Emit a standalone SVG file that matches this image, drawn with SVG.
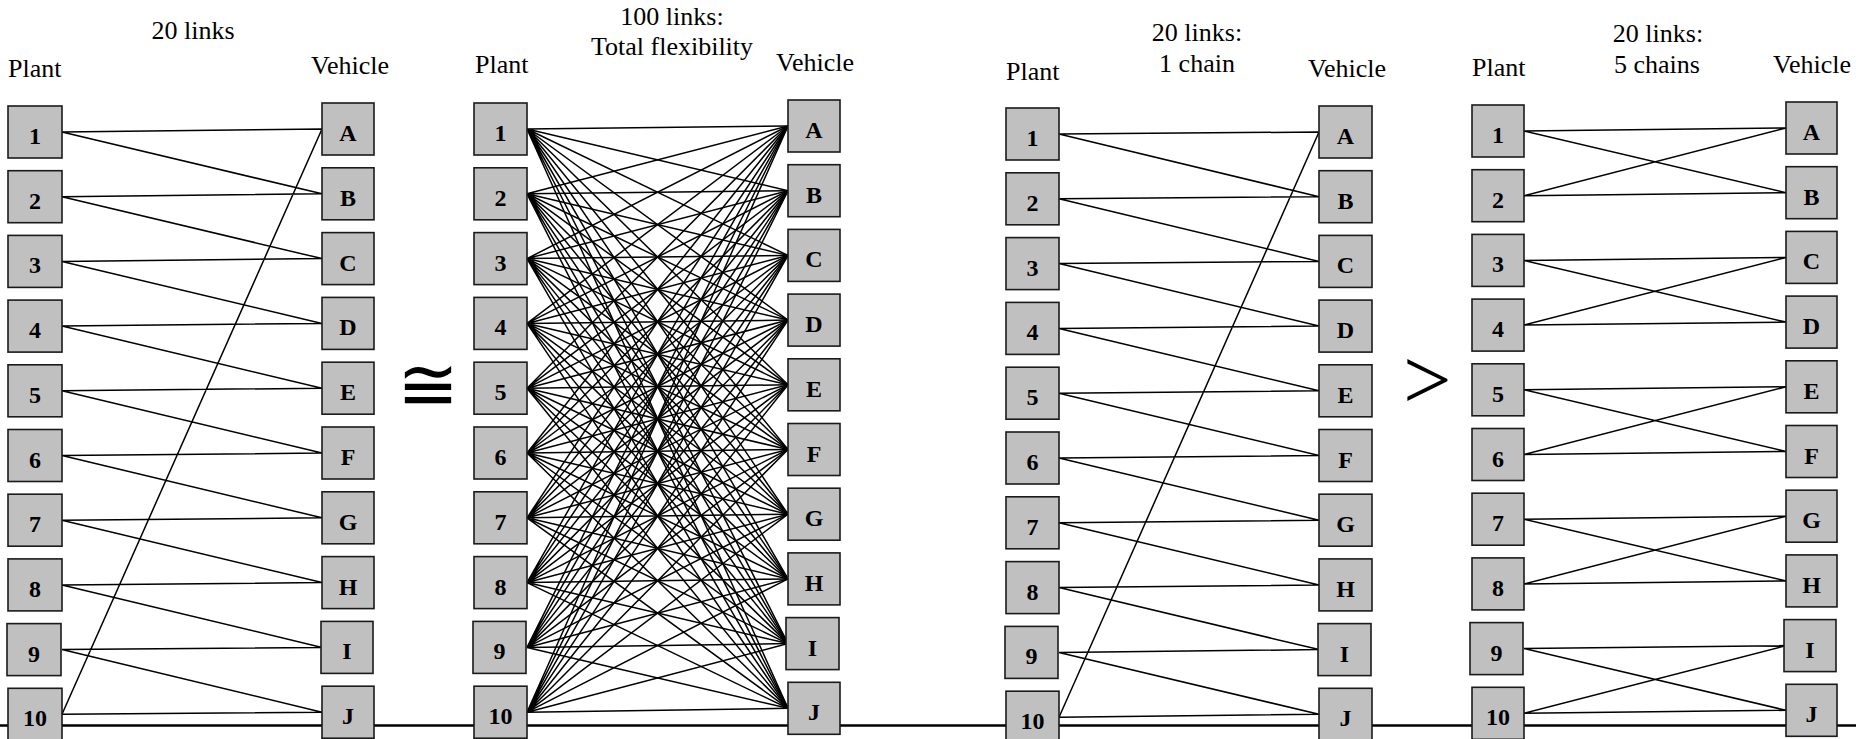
<svg xmlns="http://www.w3.org/2000/svg" width="1856" height="739" viewBox="0 0 1856 739">
  <style>
    .box { fill: #c0c0c0; stroke: #1a1a1a; stroke-width: 1.6; }
    .lbl { font-family: "Liberation Serif", "Times New Roman", serif; font-weight: bold; font-size: 24px; text-anchor: middle; fill: #000; }
    .cap { font-family: "Liberation Serif", "Times New Roman", serif; font-size: 26px; fill: #000; }
    .mid { text-anchor: middle; }
    .link { stroke: #000; stroke-width: 1.5; fill: none; }
    .rule { stroke: #000; stroke-width: 2.5; }
  </style>

  <!-- baseline rule running under all four networks -->
  <line class="rule" x1="0" y1="725.5" x2="1856" y2="725.5"/>

  <!-- captions -->
  <g id="captions">
    <text class="cap mid" x="193" y="39">20 links</text>
    <text class="cap" x="8" y="77">Plant</text>
    <text class="cap" x="311" y="74">Vehicle</text>

    <text class="cap mid" x="672" y="25">100 links:</text>
    <text class="cap mid" x="672" y="55">Total flexibility</text>
    <text class="cap" x="475" y="73">Plant</text>
    <text class="cap" x="776" y="71">Vehicle</text>

    <text class="cap mid" x="1197" y="41">20 links:</text>
    <text class="cap mid" x="1197" y="72">1 chain</text>
    <text class="cap" x="1006" y="80">Plant</text>
    <text class="cap" x="1308" y="77">Vehicle</text>

    <text class="cap mid" x="1658" y="42">20 links:</text>
    <text class="cap mid" x="1657" y="73">5 chains</text>
    <text class="cap" x="1472" y="76">Plant</text>
    <text class="cap" x="1773" y="73">Vehicle</text>

    <text x="428" y="410" font-family="DejaVu Sans, sans-serif" font-size="74" text-anchor="middle">≅</text>
    <text x="1403" y="409" font-family="Liberation Serif, serif" font-size="86">&gt;</text>
  </g>

  <!-- connectors -->
  <g id="connectors">
    <!-- network 1: 20 links -->
    <g id="links-n1" class="link">
      <path d="M62 132 L322 129 M62 132 L322 193.8
               M62 196.7 L322 193.8 M62 196.7 L322 258.6
               M62 261.4 L322 258.6 M62 261.4 L322 323.4
               M62 326.1 L322 323.4 M62 326.1 L322 388.2
               M62 390.8 L322 388.2 M62 390.8 L322 453
               M62 455.5 L322 453 M62 455.5 L322 517.8
               M62 520.2 L322 517.8 M62 520.2 L322 582.6
               M62 584.9 L322 582.6 M62 584.9 L322 647.4
               M62 649.6 L322 647.4 M62 649.6 L322 712.2
               M62 714.3 L322 712.2 M62 714.3 L322 129"/>
    </g>
    <!-- network 2: 100 links, every plant to every vehicle -->
    <g id="links-n2" class="link">
      <path d="M527 129 L788 126 M527 129 L788 190.7 M527 129 L788 255.4 M527 129 L788 320.1 M527 129 L788 384.8 M527 129 L788 449.5 M527 129 L788 514.2 M527 129 L788 578.9 M527 129 L788 643.6 M527 129 L788 708.3"/>
      <path d="M527 193.8 L788 126 M527 193.8 L788 190.7 M527 193.8 L788 255.4 M527 193.8 L788 320.1 M527 193.8 L788 384.8 M527 193.8 L788 449.5 M527 193.8 L788 514.2 M527 193.8 L788 578.9 M527 193.8 L788 643.6 M527 193.8 L788 708.3"/>
      <path d="M527 258.6 L788 126 M527 258.6 L788 190.7 M527 258.6 L788 255.4 M527 258.6 L788 320.1 M527 258.6 L788 384.8 M527 258.6 L788 449.5 M527 258.6 L788 514.2 M527 258.6 L788 578.9 M527 258.6 L788 643.6 M527 258.6 L788 708.3"/>
      <path d="M527 323.4 L788 126 M527 323.4 L788 190.7 M527 323.4 L788 255.4 M527 323.4 L788 320.1 M527 323.4 L788 384.8 M527 323.4 L788 449.5 M527 323.4 L788 514.2 M527 323.4 L788 578.9 M527 323.4 L788 643.6 M527 323.4 L788 708.3"/>
      <path d="M527 388.2 L788 126 M527 388.2 L788 190.7 M527 388.2 L788 255.4 M527 388.2 L788 320.1 M527 388.2 L788 384.8 M527 388.2 L788 449.5 M527 388.2 L788 514.2 M527 388.2 L788 578.9 M527 388.2 L788 643.6 M527 388.2 L788 708.3"/>
      <path d="M527 453 L788 126 M527 453 L788 190.7 M527 453 L788 255.4 M527 453 L788 320.1 M527 453 L788 384.8 M527 453 L788 449.5 M527 453 L788 514.2 M527 453 L788 578.9 M527 453 L788 643.6 M527 453 L788 708.3"/>
      <path d="M527 517.8 L788 126 M527 517.8 L788 190.7 M527 517.8 L788 255.4 M527 517.8 L788 320.1 M527 517.8 L788 384.8 M527 517.8 L788 449.5 M527 517.8 L788 514.2 M527 517.8 L788 578.9 M527 517.8 L788 643.6 M527 517.8 L788 708.3"/>
      <path d="M527 582.6 L788 126 M527 582.6 L788 190.7 M527 582.6 L788 255.4 M527 582.6 L788 320.1 M527 582.6 L788 384.8 M527 582.6 L788 449.5 M527 582.6 L788 514.2 M527 582.6 L788 578.9 M527 582.6 L788 643.6 M527 582.6 L788 708.3"/>
      <path d="M527 647.4 L788 126 M527 647.4 L788 190.7 M527 647.4 L788 255.4 M527 647.4 L788 320.1 M527 647.4 L788 384.8 M527 647.4 L788 449.5 M527 647.4 L788 514.2 M527 647.4 L788 578.9 M527 647.4 L788 643.6 M527 647.4 L788 708.3"/>
      <path d="M527 712.2 L788 126 M527 712.2 L788 190.7 M527 712.2 L788 255.4 M527 712.2 L788 320.1 M527 712.2 L788 384.8 M527 712.2 L788 449.5 M527 712.2 L788 514.2 M527 712.2 L788 578.9 M527 712.2 L788 643.6 M527 712.2 L788 708.3"/>
    </g>
    <!-- network 3: 20 links, one long chain -->
    <g id="links-n3" class="link">
      <path d="M1059 134 L1319 132 M1059 134 L1319 196.7
               M1059 198.8 L1319 196.7 M1059 198.8 L1319 261.4
               M1059 263.6 L1319 261.4 M1059 263.6 L1319 326.1
               M1059 328.4 L1319 326.1 M1059 328.4 L1319 390.8
               M1059 393.2 L1319 390.8 M1059 393.2 L1319 455.5
               M1059 458 L1319 455.5 M1059 458 L1319 520.2
               M1059 522.8 L1319 520.2 M1059 522.8 L1319 584.9
               M1059 587.6 L1319 584.9 M1059 587.6 L1319 649.6
               M1059 652.4 L1319 649.6 M1059 652.4 L1319 714.3
               M1059 717.2 L1319 714.3 M1059 717.2 L1319 132"/>
    </g>
    <!-- network 4: 20 links, five closed chains of two -->
    <g id="links-n4" class="link">
      <path d="M1524 131 L1786 128 M1524 131 L1786 192.7
               M1524 195.7 L1786 128 M1524 195.7 L1786 192.7
               M1524 260.4 L1786 257.4 M1524 260.4 L1786 322.1
               M1524 325.1 L1786 257.4 M1524 325.1 L1786 322.1
               M1524 389.8 L1786 386.8 M1524 389.8 L1786 451.5
               M1524 454.5 L1786 386.8 M1524 454.5 L1786 451.5
               M1524 519.2 L1786 516.2 M1524 519.2 L1786 580.9
               M1524 583.9 L1786 516.2 M1524 583.9 L1786 580.9
               M1524 648.6 L1786 645.6 M1524 648.6 L1786 710.3
               M1524 713.3 L1786 645.6 M1524 713.3 L1786 710.3"/>
    </g>
  </g>

  <!-- network 1 nodes -->
  <g id="n1-plant-1"><rect class="box" x="8" y="106" width="54" height="52"/><text class="lbl" x="35" y="144">1</text></g>
  <g id="n1-plant-2"><rect class="box" x="8" y="170.7" width="54" height="52"/><text class="lbl" x="35" y="208.7">2</text></g>
  <g id="n1-plant-3"><rect class="box" x="8" y="235.4" width="54" height="52"/><text class="lbl" x="35" y="273.4">3</text></g>
  <g id="n1-plant-4"><rect class="box" x="8" y="300.1" width="54" height="52"/><text class="lbl" x="35" y="338.1">4</text></g>
  <g id="n1-plant-5"><rect class="box" x="8" y="364.8" width="54" height="52"/><text class="lbl" x="35" y="402.8">5</text></g>
  <g id="n1-plant-6"><rect class="box" x="8" y="429.5" width="54" height="52"/><text class="lbl" x="35" y="467.5">6</text></g>
  <g id="n1-plant-7"><rect class="box" x="8" y="494.2" width="54" height="52"/><text class="lbl" x="35" y="532.2">7</text></g>
  <g id="n1-plant-8"><rect class="box" x="8" y="558.9" width="54" height="52"/><text class="lbl" x="35" y="596.9">8</text></g>
  <g id="n1-plant-9"><rect class="box" x="7" y="623.6" width="54" height="52"/><text class="lbl" x="34" y="661.6">9</text></g>
  <g id="n1-plant-10"><rect class="box" x="8" y="688.3" width="54" height="52"/><text class="lbl" x="35" y="726.3">10</text></g>
  <g id="n1-vehicle-A"><rect class="box" x="322" y="103" width="52" height="52"/><text class="lbl" x="348" y="141">A</text></g>
  <g id="n1-vehicle-B"><rect class="box" x="322" y="167.8" width="52" height="52"/><text class="lbl" x="348" y="205.8">B</text></g>
  <g id="n1-vehicle-C"><rect class="box" x="322" y="232.6" width="52" height="52"/><text class="lbl" x="348" y="270.6">C</text></g>
  <g id="n1-vehicle-D"><rect class="box" x="322" y="297.4" width="52" height="52"/><text class="lbl" x="348" y="335.4">D</text></g>
  <g id="n1-vehicle-E"><rect class="box" x="322" y="362.2" width="52" height="52"/><text class="lbl" x="348" y="400.2">E</text></g>
  <g id="n1-vehicle-F"><rect class="box" x="322" y="427" width="52" height="52"/><text class="lbl" x="348" y="465">F</text></g>
  <g id="n1-vehicle-G"><rect class="box" x="322" y="491.8" width="52" height="52"/><text class="lbl" x="348" y="529.8">G</text></g>
  <g id="n1-vehicle-H"><rect class="box" x="322" y="556.6" width="52" height="52"/><text class="lbl" x="348" y="594.6">H</text></g>
  <g id="n1-vehicle-I"><rect class="box" x="321" y="621.4" width="52" height="52"/><text class="lbl" x="347" y="659.4">I</text></g>
  <g id="n1-vehicle-J"><rect class="box" x="322" y="686.2" width="52" height="52"/><text class="lbl" x="348" y="724.2">J</text></g>

  <!-- network 2 nodes -->
  <g id="n2-plant-1"><rect class="box" x="474" y="103" width="53" height="52"/><text class="lbl" x="500.5" y="141">1</text></g>
  <g id="n2-plant-2"><rect class="box" x="474" y="167.8" width="53" height="52"/><text class="lbl" x="500.5" y="205.8">2</text></g>
  <g id="n2-plant-3"><rect class="box" x="474" y="232.6" width="53" height="52"/><text class="lbl" x="500.5" y="270.6">3</text></g>
  <g id="n2-plant-4"><rect class="box" x="474" y="297.4" width="53" height="52"/><text class="lbl" x="500.5" y="335.4">4</text></g>
  <g id="n2-plant-5"><rect class="box" x="474" y="362.2" width="53" height="52"/><text class="lbl" x="500.5" y="400.2">5</text></g>
  <g id="n2-plant-6"><rect class="box" x="474" y="427" width="53" height="52"/><text class="lbl" x="500.5" y="465">6</text></g>
  <g id="n2-plant-7"><rect class="box" x="474" y="491.8" width="53" height="52"/><text class="lbl" x="500.5" y="529.8">7</text></g>
  <g id="n2-plant-8"><rect class="box" x="474" y="556.6" width="53" height="52"/><text class="lbl" x="500.5" y="594.6">8</text></g>
  <g id="n2-plant-9"><rect class="box" x="473" y="621.4" width="53" height="52"/><text class="lbl" x="499.5" y="659.4">9</text></g>
  <g id="n2-plant-10"><rect class="box" x="474" y="686.2" width="53" height="52"/><text class="lbl" x="500.5" y="724.2">10</text></g>
  <g id="n2-vehicle-A"><rect class="box" x="788" y="100" width="52" height="52"/><text class="lbl" x="814" y="138">A</text></g>
  <g id="n2-vehicle-B"><rect class="box" x="788" y="164.7" width="52" height="52"/><text class="lbl" x="814" y="202.7">B</text></g>
  <g id="n2-vehicle-C"><rect class="box" x="788" y="229.4" width="52" height="52"/><text class="lbl" x="814" y="267.4">C</text></g>
  <g id="n2-vehicle-D"><rect class="box" x="788" y="294.1" width="52" height="52"/><text class="lbl" x="814" y="332.1">D</text></g>
  <g id="n2-vehicle-E"><rect class="box" x="788" y="358.8" width="52" height="52"/><text class="lbl" x="814" y="396.8">E</text></g>
  <g id="n2-vehicle-F"><rect class="box" x="788" y="423.5" width="52" height="52"/><text class="lbl" x="814" y="461.5">F</text></g>
  <g id="n2-vehicle-G"><rect class="box" x="788" y="488.2" width="52" height="52"/><text class="lbl" x="814" y="526.2">G</text></g>
  <g id="n2-vehicle-H"><rect class="box" x="788" y="552.9" width="52" height="52"/><text class="lbl" x="814" y="590.9">H</text></g>
  <g id="n2-vehicle-I"><rect class="box" x="786" y="617.6" width="53" height="52"/><text class="lbl" x="812.5" y="655.6">I</text></g>
  <g id="n2-vehicle-J"><rect class="box" x="788" y="682.3" width="52" height="52"/><text class="lbl" x="814" y="720.3">J</text></g>

  <!-- network 3 nodes -->
  <g id="n3-plant-1"><rect class="box" x="1006" y="108" width="53" height="52"/><text class="lbl" x="1032.5" y="146">1</text></g>
  <g id="n3-plant-2"><rect class="box" x="1006" y="172.8" width="53" height="52"/><text class="lbl" x="1032.5" y="210.8">2</text></g>
  <g id="n3-plant-3"><rect class="box" x="1006" y="237.6" width="53" height="52"/><text class="lbl" x="1032.5" y="275.6">3</text></g>
  <g id="n3-plant-4"><rect class="box" x="1006" y="302.4" width="53" height="52"/><text class="lbl" x="1032.5" y="340.4">4</text></g>
  <g id="n3-plant-5"><rect class="box" x="1006" y="367.2" width="53" height="52"/><text class="lbl" x="1032.5" y="405.2">5</text></g>
  <g id="n3-plant-6"><rect class="box" x="1006" y="432" width="53" height="52"/><text class="lbl" x="1032.5" y="470">6</text></g>
  <g id="n3-plant-7"><rect class="box" x="1006" y="496.8" width="53" height="52"/><text class="lbl" x="1032.5" y="534.8">7</text></g>
  <g id="n3-plant-8"><rect class="box" x="1006" y="561.6" width="53" height="52"/><text class="lbl" x="1032.5" y="599.6">8</text></g>
  <g id="n3-plant-9"><rect class="box" x="1005" y="626.4" width="53" height="52"/><text class="lbl" x="1031.5" y="664.4">9</text></g>
  <g id="n3-plant-10"><rect class="box" x="1006" y="691.2" width="53" height="52"/><text class="lbl" x="1032.5" y="729.2">10</text></g>
  <g id="n3-vehicle-A"><rect class="box" x="1319" y="106" width="53" height="52"/><text class="lbl" x="1345.5" y="144">A</text></g>
  <g id="n3-vehicle-B"><rect class="box" x="1319" y="170.7" width="53" height="52"/><text class="lbl" x="1345.5" y="208.7">B</text></g>
  <g id="n3-vehicle-C"><rect class="box" x="1319" y="235.4" width="53" height="52"/><text class="lbl" x="1345.5" y="273.4">C</text></g>
  <g id="n3-vehicle-D"><rect class="box" x="1319" y="300.1" width="53" height="52"/><text class="lbl" x="1345.5" y="338.1">D</text></g>
  <g id="n3-vehicle-E"><rect class="box" x="1319" y="364.8" width="53" height="52"/><text class="lbl" x="1345.5" y="402.8">E</text></g>
  <g id="n3-vehicle-F"><rect class="box" x="1319" y="429.5" width="53" height="52"/><text class="lbl" x="1345.5" y="467.5">F</text></g>
  <g id="n3-vehicle-G"><rect class="box" x="1319" y="494.2" width="53" height="52"/><text class="lbl" x="1345.5" y="532.2">G</text></g>
  <g id="n3-vehicle-H"><rect class="box" x="1319" y="558.9" width="53" height="52"/><text class="lbl" x="1345.5" y="596.9">H</text></g>
  <g id="n3-vehicle-I"><rect class="box" x="1318" y="623.6" width="53" height="52"/><text class="lbl" x="1344.5" y="661.6">I</text></g>
  <g id="n3-vehicle-J"><rect class="box" x="1319" y="688.3" width="53" height="52"/><text class="lbl" x="1345.5" y="726.3">J</text></g>

  <!-- network 4 nodes -->
  <g id="n4-plant-1"><rect class="box" x="1472" y="105" width="52" height="52"/><text class="lbl" x="1498" y="143">1</text></g>
  <g id="n4-plant-2"><rect class="box" x="1472" y="169.7" width="52" height="52"/><text class="lbl" x="1498" y="207.7">2</text></g>
  <g id="n4-plant-3"><rect class="box" x="1472" y="234.4" width="52" height="52"/><text class="lbl" x="1498" y="272.4">3</text></g>
  <g id="n4-plant-4"><rect class="box" x="1472" y="299.1" width="52" height="52"/><text class="lbl" x="1498" y="337.1">4</text></g>
  <g id="n4-plant-5"><rect class="box" x="1472" y="363.8" width="52" height="52"/><text class="lbl" x="1498" y="401.8">5</text></g>
  <g id="n4-plant-6"><rect class="box" x="1472" y="428.5" width="52" height="52"/><text class="lbl" x="1498" y="466.5">6</text></g>
  <g id="n4-plant-7"><rect class="box" x="1472" y="493.2" width="52" height="52"/><text class="lbl" x="1498" y="531.2">7</text></g>
  <g id="n4-plant-8"><rect class="box" x="1472" y="557.9" width="52" height="52"/><text class="lbl" x="1498" y="595.9">8</text></g>
  <g id="n4-plant-9"><rect class="box" x="1470" y="622.6" width="53" height="52"/><text class="lbl" x="1496.5" y="660.6">9</text></g>
  <g id="n4-plant-10"><rect class="box" x="1472" y="687.3" width="52" height="52"/><text class="lbl" x="1498" y="725.3">10</text></g>
  <g id="n4-vehicle-A"><rect class="box" x="1786" y="102" width="51" height="52"/><text class="lbl" x="1811.5" y="140">A</text></g>
  <g id="n4-vehicle-B"><rect class="box" x="1786" y="166.7" width="51" height="52"/><text class="lbl" x="1811.5" y="204.7">B</text></g>
  <g id="n4-vehicle-C"><rect class="box" x="1786" y="231.4" width="51" height="52"/><text class="lbl" x="1811.5" y="269.4">C</text></g>
  <g id="n4-vehicle-D"><rect class="box" x="1786" y="296.1" width="51" height="52"/><text class="lbl" x="1811.5" y="334.1">D</text></g>
  <g id="n4-vehicle-E"><rect class="box" x="1786" y="360.8" width="51" height="52"/><text class="lbl" x="1811.5" y="398.8">E</text></g>
  <g id="n4-vehicle-F"><rect class="box" x="1786" y="425.5" width="51" height="52"/><text class="lbl" x="1811.5" y="463.5">F</text></g>
  <g id="n4-vehicle-G"><rect class="box" x="1786" y="490.2" width="51" height="52"/><text class="lbl" x="1811.5" y="528.2">G</text></g>
  <g id="n4-vehicle-H"><rect class="box" x="1786" y="554.9" width="51" height="52"/><text class="lbl" x="1811.5" y="592.9">H</text></g>
  <g id="n4-vehicle-I"><rect class="box" x="1784" y="619.6" width="52" height="52"/><text class="lbl" x="1810" y="657.6">I</text></g>
  <g id="n4-vehicle-J"><rect class="box" x="1786" y="684.3" width="51" height="52"/><text class="lbl" x="1811.5" y="722.3">J</text></g>
</svg>
